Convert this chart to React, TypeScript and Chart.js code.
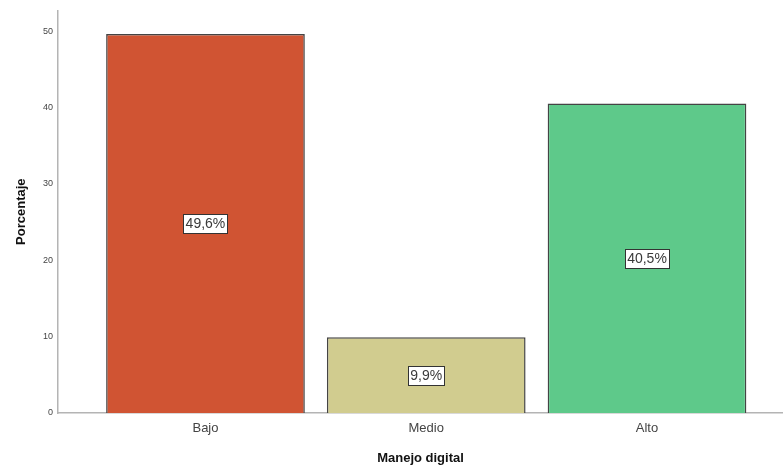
import React, { useEffect, useRef } from "react";
import { Chart, registerables } from "chart.js";

Chart.register(...registerables);

const categories = ["Bajo", "Medio", "Alto"];
const percentages = [49.6, 9.9, 40.5];
const barColors = ["#D05433", "#D1CC8F", "#5EC98A"];
const yTicks = [0, 10, 20, 30, 40, 50];

const formatPct = (v: number) => v.toFixed(1).replace(".", ",") + "%";

// Boxed percentage label in the middle of each bar
const boxedLabels = {
  id: "boxedLabels",
  afterDatasetsDraw(chart: any) {
    const { ctx } = chart;
    const meta = chart.getDatasetMeta(0);
    ctx.save();
    ctx.font = "14px 'Liberation Sans', Arial, sans-serif";
    ctx.textAlign = "center";
    ctx.textBaseline = "middle";
    meta.data.forEach((bar: any, i: number) => {
      const text = formatPct(percentages[i]);
      const cx = bar.x;
      const cy = (bar.y + bar.base) / 2;
      const w = Math.round(ctx.measureText(text).width + 4);
      const h = 19;
      const x0 = Math.round(cx - w / 2) + 0.5;
      const y0 = Math.round(cy - h / 2) + 0.5;
      ctx.fillStyle = "#ffffff";
      ctx.fillRect(x0, y0, w, h);
      ctx.strokeStyle = "#333333";
      ctx.lineWidth = 1;
      ctx.strokeRect(x0, y0, w, h);
      ctx.fillStyle = "#3a3a3a";
      ctx.fillText(text, cx, cy + 1);
    });
    ctx.restore();
  },
};

export default function App() {
  const canvasRef = useRef<HTMLCanvasElement | null>(null);

  useEffect(() => {
    document.body.style.margin = "0";
    const canvas = canvasRef.current;
    if (!canvas) return;
    const chart = new Chart(canvas, {
      type: "bar",
      data: {
        labels: categories,
        datasets: [
          {
            data: percentages.map((v, i) => ({ x: i, y: v })),
            backgroundColor: barColors,
            borderColor: "#444444",
            borderWidth: 1.5,
            barPercentage: 0.9,
            categoryPercentage: 1.0,
          },
        ],
      },
      options: {
        animation: false,
        responsive: false,
        maintainAspectRatio: false,
        layout: { padding: { left: 10, top: 10, right: 0, bottom: 0 } },
        plugins: {
          legend: { display: false },
          tooltip: { enabled: false },
        },
        scales: {
          x: {
            type: "linear",
            offset: false,
            min: -0.668,
            max: 2.616,
            grid: { display: false, drawTicks: false, offset: false },
            border: { display: true, color: "#b4b4b4", width: 1.5 },
            afterBuildTicks(scale: any) {
              scale.ticks = categories.map((_, i) => ({ value: i }));
            },
            afterFit(scale: any) {
              scale.height = 55;
            },
            ticks: {
              autoSkip: false,
              maxRotation: 0,
              padding: 8,
              color: "#444444",
              font: { family: "'Liberation Sans', Arial, sans-serif", size: 13 },
              callback: (v: any) => categories[Math.round(Number(v))] ?? "",
            },
            title: {
              display: true,
              text: "Manejo digital",
              color: "#111111",
              padding: { top: 4, bottom: 2 },
              font: { family: "'Liberation Sans', Arial, sans-serif", size: 13, weight: "bold" },
            },
          },
          y: {
            min: 0,
            max: 52.7,
            grid: { display: false, drawTicks: false },
            border: { display: true, color: "#b4b4b4", width: 1.5 },
            afterBuildTicks(scale: any) {
              scale.ticks = yTicks.map((v) => ({ value: v }));
            },
            afterFit(scale: any) {
              scale.width = 48;
            },
            ticks: {
              padding: 5,
              color: "#444444",
              font: { family: "'Liberation Sans', Arial, sans-serif", size: 9 },
            },
            title: {
              display: true,
              text: "Porcentaje",
              color: "#111111",
              padding: { top: 4, bottom: 4 },
              font: { family: "'Liberation Sans', Arial, sans-serif", size: 13, weight: "bold" },
            },
          },
        },
      },
      plugins: [boxedLabels],
    });
    return () => chart.destroy();
  }, []);

  return (
    <div style={{ width: 783, height: 468 }}>
      <canvas ref={canvasRef} width={783} height={468} />
    </div>
  );
}
